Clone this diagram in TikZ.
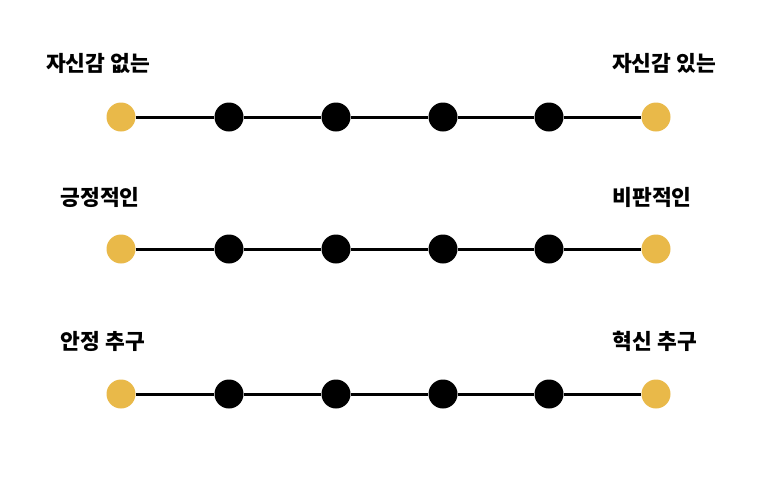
\documentclass[tikz,border=0pt]{standalone}
\usepackage{fontspec}
\setmainfont{Noto Sans CJK KR}
\definecolor{gold}{HTML}{E9B949}
\begin{document}
\begin{tikzpicture}[x=1pt,y=-1pt,
  enddot/.style={circle,fill=gold,minimum size=29pt,inner sep=0pt},
  middot/.style={circle,fill=black,minimum size=29pt,inner sep=0pt},
  bar/.style={line width=3pt,black},
  lbl/.style={font=\fontsize{21.5}{24}\selectfont\bfseries,inner sep=0pt,anchor=center}]
\useasboundingbox (0,0) rectangle (782,491);
\foreach \r/\yy in {a/117,b/249,c/394}{
  \node[enddot] (\r0) at (121,\yy) {};
  \node[middot] (\r1) at (229,\yy) {};
  \node[middot] (\r2) at (336,\yy) {};
  \node[middot] (\r3) at (443,\yy) {};
  \node[middot] (\r4) at (549,\yy) {};
  \node[enddot] (\r5) at (656,\yy) {};
}
\foreach \r in {a,b,c}{
  \draw[bar] (\r0) -- (\r1) (\r1) -- (\r2) (\r2) -- (\r3) (\r3) -- (\r4) (\r4) -- (\r5);
}
\node[lbl] (la) at (98,63) {자신감 없는};
\node[lbl] (ra) at (664,63) {자신감 있는};
\node[lbl] (lb) at (100,197) {긍정적인};
\node[lbl] (rb) at (652,197) {비판적인};
\node[lbl] (lc) at (103,341) {안정 추구};
\node[lbl] (rc) at (655,341) {혁신 추구};
\end{tikzpicture}
\end{document}
